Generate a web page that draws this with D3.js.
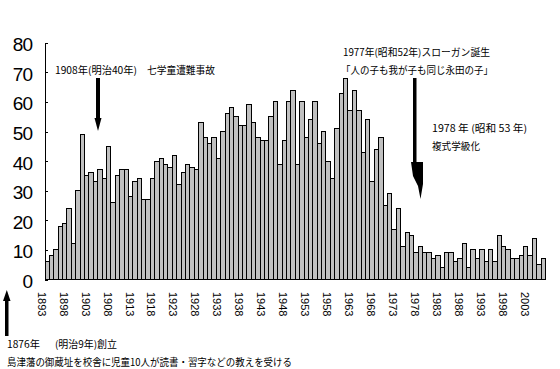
<!DOCTYPE html>
<html><head><meta charset="utf-8">
<script src="https://cdn.jsdelivr.net/npm/d3@7"></script>
<style>
body{margin:0;background:#fff;}
svg{display:block;}
.jp{font-family:"Noto Sans CJK JP","Noto Sans CJK SC",sans-serif;fill:#000;}
</style></head>
<body>
<svg id="c" width="560" height="369"></svg>
<script>
const startYear = 1893;
const values = [6,8,10,18,19,24,12,30,49,35,36,33,37,34,45,26,35,37,37,28,
  33,34,27,27,34,40,41,39,38,42,32,36,39,38,37,53,48,46,48,41,
  50,56,58,55,52,52,59,53,48,47,47,55,60,39,47,60,64,39,60,48,
  54,60,46,50,40,34,51,63,68,57,64,57,43,54,33,44,48,25,29,17,
  24,11,16,15,9,11,9,9,7,8,4,9,9,6,7,12,4,10,7,10,
  6,10,6,15,11,10,7,7,8,11,8,14,5,7];
const years = values.map((v,i)=>startYear+i);
const yTicks = [0,10,20,30,40,50,60,70,80];
const xLabelYears = years.filter(y=>(y-startYear)%5===0 && y<=2003);

const svg = d3.select("#c");
const x = d3.scaleBand().domain(years).range([45,545.5]).padding(0);
const y = d3.scaleLinear().domain([0,80]).range([279.5,42.7]);

// bars
svg.append("g").selectAll("rect").data(values).join("rect")
  .attr("x",(d,i)=>x(years[i]))
  .attr("y",d=>y(d))
  .attr("width",x.bandwidth())
  .attr("height",d=>y(0)-y(d))
  .attr("fill","#c0c0c0")
  .attr("stroke","#000")
  .attr("stroke-width",1)
  .attr("shape-rendering","crispEdges");

// y axis
const ya = svg.append("g").attr("transform","translate(45,0)")
  .call(d3.axisLeft(y).tickValues(yTicks).tickSizeInner(-3).tickSizeOuter(0).tickPadding(13));
ya.select(".domain").attr("stroke","#000").attr("shape-rendering","crispEdges");
ya.selectAll(".tick line").attr("stroke","#000").attr("shape-rendering","crispEdges");
ya.selectAll(".tick text")
  .attr("font-family","Liberation Sans, Arial, sans-serif")
  .attr("font-size",19).attr("letter-spacing","-1")
  .attr("dy","0.42em").attr("fill","#000");

// x axis baseline
svg.append("line").attr("x1",45).attr("x2",545.5).attr("y1",y(0)).attr("y2",y(0))
  .attr("stroke","#000").attr("shape-rendering","crispEdges");

// x labels rotated
svg.append("g").selectAll("text").data(xLabelYears).join("text")
  .attr("transform",d=>`translate(${x(d)+x.bandwidth()/2-5.5},292) rotate(90)`)
  .attr("dominant-baseline","central")
  .attr("font-family","Liberation Sans, Arial, sans-serif")
  .attr("font-size",11).attr("fill","#000")
  .text(d=>d);

// annotations
function t(txt,x0,yc,len){
  const e = svg.append("text").attr("class","jp").attr("x",x0).attr("y",yc)
    .attr("dominant-baseline","central").attr("font-size",10).text(txt);
  if(len) e.attr("textLength",len).attr("lengthAdjust","spacingAndGlyphs");
  return e;
}
t("1908年(明治40年)",55,69,82);
t("七学童遭難事故",147,69,68);
t("1977年(昭和52年)スローガン誕生",343,51,147);
t("「人の子も我が子も同じ永田の子」",341,69,152);
t("1978 年 (昭和 53 年)",432,127,95);
t("複式学級化",432,145,48);
t("1876年",7,343,33);
t("(明治9年)創立",55,343,62);
t("島津藩の御蔵址を校舎に児童10人が読書・習字などの教えを受ける",7,361,285);

// arrows
svg.append("rect").attr("x",96).attr("y",78).attr("width",4).attr("height",42).attr("fill","#000");
svg.append("path").attr("d","M94.5,118 L101.5,118 L98,131 Z").attr("fill","#000");

svg.append("rect").attr("x",413).attr("y",78).attr("width",3.5).attr("height",88).attr("fill","#000");
svg.append("path").attr("d","M411,162 L423,162 L423,184 L420.5,199 L418,186 L413,176 Z").attr("fill","#000");

svg.append("rect").attr("x",5).attr("y",298).attr("width",3.5).attr("height",38).attr("fill","#000");
svg.append("path").attr("d","M3,301 L10.5,301 L6.8,290 Z").attr("fill","#000");
</script>
</body></html>
